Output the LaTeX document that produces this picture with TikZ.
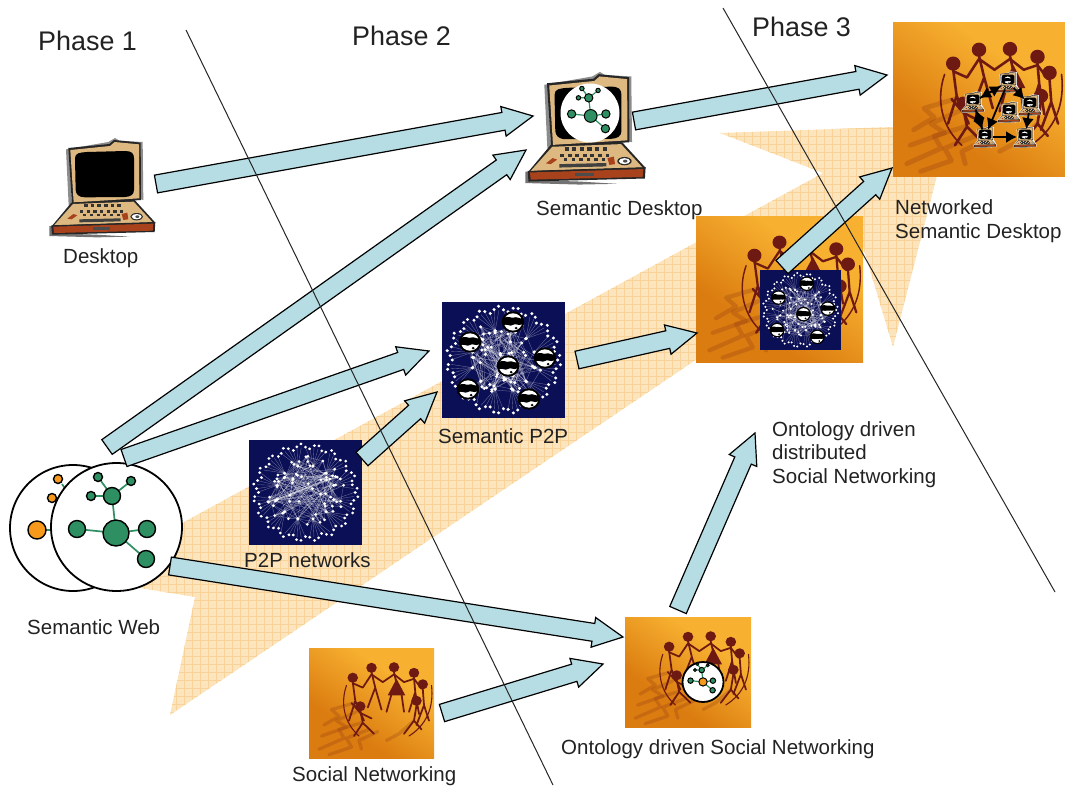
\documentclass[tikz,border=0pt]{standalone}
\usepackage{fontspec}
\setmainfont{Liberation Sans}
\usetikzlibrary{calc,arrows.meta}
\definecolor{flowfill}{HTML}{B7DDE4}
\definecolor{bigfill}{HTML}{FCE4BC}
\definecolor{biggrid}{HTML}{F8D298}
\definecolor{navybox}{HTML}{0B0F55}
\definecolor{orA}{HTML}{DB7C10}
\definecolor{orB}{HTML}{F7B030}
\definecolor{people}{HTML}{6E1A12}
\definecolor{shadowc}{HTML}{7E2A10}
\definecolor{netgreen}{HTML}{2E8F62}
\definecolor{netorange}{HTML}{F79A1C}
\definecolor{lapbeige}{HTML}{DDB981}
\definecolor{lapred}{HTML}{A8421C}
\definecolor{inkc}{HTML}{222222}
\pgfdeclareverticalshading{orsh}{100bp}{color(0bp)=(orA); color(35bp)=(orA); color(65bp)=(orB); color(100bp)=(orB)}
\tikzset{
  flow/.style={draw=black,fill=flowfill,line width=1.2pt,line join=miter},
  lab/.style={inner sep=0,anchor=base west,text=inkc,font=\fontsize{20.5}{24}\selectfont},
  phaselab/.style={inner sep=0,anchor=base west,text=inkc,font=\fontsize{26.9}{30}\selectfont},
  phaseline/.style={draw=black!85,line width=1pt},
  disc/.style={draw=black,fill=white,line width=1.8pt},
  minilink/.style={draw=black,line width=1.8pt,shorten >=8pt,shorten <=8pt,-{Latex[length=11pt,width=12pt]}},
  laptop/.pic={
    % halo
    \fill[white] (100,90) -- (235,62) -- (255,48) -- (345,60) -- (345,240) -- (385,310) -- (380,345) -- (60,352) -- (55,315) -- (112,250) -- cycle;
    % grey drop shadow
    \fill[black!45] (108,88) -- (235,66) -- (255,54) -- (268,62) -- (338,66) -- (340,240) -- (332,238) -- (328,76) -- (118,94) -- (126,254) -- (116,256) -- cycle;
    \fill[black!55] (58,318) -- (66,318) -- (68,340) -- (200,344) -- (300,350) -- (200,352) -- (58,348) -- cycle;
    % lid
    \fill[black!85] (115,84) -- (238,72) -- (252,60) -- (332,68) -- (333,240) -- (126,253) -- cycle;
    \fill[lapbeige] (121,90) -- (240,78) -- (254,66) -- (327,73) -- (328,235) -- (131,247) -- cycle;
    % screen
    \fill[black] (135,115) .. controls (135,98) and (150,98) .. (170,96) -- (285,93) .. controls (305,93) and (312,100) .. (312,115) -- (312,210) .. controls (312,225) and (300,230) .. (285,231) -- (165,232) .. controls (145,232) and (138,222) .. (137,210) -- cycle;
    % base
    \fill[black!85] (124,248) -- (314,240) -- (376,308) -- (64,320) -- cycle;
    \fill[lapbeige] (129,252) -- (311,245) -- (368,307) -- (72,316) -- cycle;
    \foreach \xk in {162,182,202,222,242,262}{\fill[black!80] (\xk,253) rectangle +(11,9);}
    \foreach \xk in {150,170,190,210,230,250,270}{\fill[black!80] (\xk,270) rectangle +(10,8);}
    \foreach \xk in {160,180,200,220,240,260}{\fill[black!80] (\xk,283) rectangle +(9,6);}
    \fill[black!75] (148,298) -- (272,295) -- (272,304) -- (148,307) -- cycle;
    \fill[lapred] (112,296) -- (130,282) -- (142,286) -- (125,298) -- cycle;
    \fill[lapred] (275,282) -- (292,278) -- (295,298) -- (280,300) -- cycle;
    \fill[black!85] (320,290) ellipse [x radius=19,y radius=11];
    \fill[white] (320,290) ellipse [x radius=15,y radius=8];
    \fill[black!70] (322,290) ellipse [x radius=6,y radius=4];
    % front
    \fill[black!85] (64,316) -- (376,306) -- (374,336) -- (66,344) -- cycle;
    \fill[lapred] (70,320) -- (370,311) -- (368,332) -- (72,339) -- cycle;
    \fill[black!70] (190,322) rectangle (240,330);
  }
}
% block arrow between two named coordinates
\newcommand\barrow[2]{%
  \coordinate (tmpneck) at ($(#2)!30pt!(#1)$);
  \draw[flow] ($(#1)!9pt!90:(#2)$) -- ($(tmpneck)!9pt!90:(#2)$) -- ($(tmpneck)!15pt!90:(#2)$) -- (#2)
    -- ($(tmpneck)!15pt!-90:(#2)$) -- ($(tmpneck)!9pt!-90:(#2)$) -- ($(#1)!9pt!-90:(#2)$) -- cycle;}
% orange picture with ring of paper figures
\newcommand\ringscene[5]{%
  \begin{scope}[shift={(#1,#2)},xscale=#3,yscale=#4]
    \shade[shading=orsh,shading angle=-35] (0,0) rectangle (100,100);
    \begin{scope}[shadowc,opacity=.22,line width=#5*3pt,line cap=round,line join=round]
      \draw (38,58) -- (22,66) -- (30,72) -- (10,80);
      \draw (42,68) -- (24,74) -- (28,82) -- (8,92);
      \draw (48,74) -- (30,82) -- (34,90) -- (16,97);
      \draw (36,50) -- (18,56) -- (24,62) -- (12,70);
      \draw (55,76) -- (40,84) -- (42,92);
      \draw (84,66) -- (72,78) -- (62,84);
    \end{scope}
    \begin{scope}[people,line width=#5*1.6pt,line cap=round,line join=round]
      \foreach \hx/\hy in {50/18,68/17.5,84/22.6,91/33,35/27,41/53,86/48}{
        \fill (\hx,\hy) ellipse [x radius=4.2,y radius=4.6];}
      \draw (50,22) -- (53,36) -- (47,54) (53,36) -- (58,56);
      \draw (68,22) -- (70,32) (66,42) -- (62,58) (74,42) -- (76,58);
      \fill (70,28) -- (63,43) -- (77,43) -- cycle;
      \draw (84,27) -- (85,40) -- (80,58) (85,40) -- (88,60);
      \draw (50,24) -- (59,31) -- (68,24) -- (76,31) -- (84,28) -- (90,37);
      \draw (50,24) -- (43,36) -- (35,32);
      \draw (35,31) -- (37,48) -- (32,66) (37,48) -- (44,66);
      \draw (91,37) -- (92,52) -- (86,70) (92,52) -- (96,66);
      \draw (41,57) -- (43,68) -- (36,80) (43,68) -- (52,78);
      \draw (41,59) -- (34,50) (41,59) -- (50,64);
      \draw (86,52) -- (84,66) -- (76,78) (84,66) -- (90,74);
      \draw[line width=#5*1pt] (30,34) .. controls (25,50) and (28,68) .. (40,80);
      \draw[line width=#5*1pt] (98,34) .. controls (100,54) and (94,70) .. (80,80);
    \end{scope}
  \end{scope}}
% little green (or orange) graph
\newcommand\semnet[6]{%
  \begin{scope}[shift={(#1,#2)},scale=#3]
    \draw[netgreen,line width=#6*1.7pt] (0,6) -- (-39,2) (0,6) -- (31,2) (0,6) -- (30,32) (0,6) -- (-4,-31)
       (-4,-31) -- (-18,-50) (-4,-31) -- (15,-46) (-4,-31) -- (-25,-31);
    \begin{scope}[draw=black,line width=#6*1.4pt,fill=#5]
      \filldraw[fill=#4] (0,6) circle [radius=13];
      \filldraw (-39,2) circle [radius=8.5];
      \filldraw (31,2) circle [radius=8.5];
      \filldraw (30,32) circle [radius=8.5];
      \filldraw (-4,-31) circle [radius=8.5];
      \filldraw (-18,-50) circle [radius=4.5];
      \filldraw (15,-46) circle [radius=4.5];
      \filldraw (-25,-31) circle [radius=4.5];
    \end{scope}
  \end{scope}}
% globe mark
\newcommand\globemark[3]{%
  \begin{scope}[shift={(#1,#2)},scale=#3]
    \fill[black] (0,0) circle [radius=1.08];
    \fill[white] (0,0) circle [radius=.88];
    \fill[black] (-.95,-.35) .. controls (-.5,-.75) and (-.1,-.3) .. (.1,-.45) .. controls (.35,-.6) and (.6,-.25) .. (.95,-.4) -- (.95,.2) .. controls (.5,.5) and (.25,.05) .. (0,.3) .. controls (-.3,.55) and (-.6,.05) .. (-.95,.4) -- cycle;
    \fill[black] (.3,.62) circle [radius=.14];
  \end{scope}}
% dark network square
\newcommand\pnet[7]{%
  \begin{scope}[shift={(#1,#2)},xscale=#3,yscale=#4]
    \fill[navybox] (0,0) rectangle (1,1);
    \pgfmathsetseed{#5}
    \foreach \k in {0,...,11}{
      \pgfmathsetmacro\ang{(\k+.5)*30}
      \coordinate (hub\k) at ({.5+.26*cos(\ang)},{.5+.26*sin(\ang)});}
    \foreach \k in {1,...,60}{
      \pgfmathsetmacro\ang{rnd*360}\pgfmathsetmacro\rad{.35*sqrt(rnd)}
      \coordinate (core\k) at ({.5+\rad*cos(\ang)},{.5+\rad*sin(\ang)});}
    \begin{scope}[white,opacity=.4,line width=#7*.35pt]
      \foreach \k in {1,...,60}{
        \pgfmathtruncatemacro\ta{1+int(rnd*60)}\pgfmathtruncatemacro\tb{int(rnd*12)}
        \pgfmathtruncatemacro\tc{1+int(rnd*60)}
        \draw (core\k) -- (core\ta) (core\k) -- (hub\tb) (core\k) -- (core\tc);}
      \foreach \j in {0,...,71}{
        \pgfmathtruncatemacro\hb{int(\j/6)}
        \pgfmathsetmacro\ang{\j*5}
        \draw (hub\hb) -- ({.5+.43*cos(\ang)},{.5+.43*sin(\ang)});}
    \end{scope}
    \foreach \k in {1,...,60}{\fill[white] (core\k) circle [radius=.014];}
    \foreach \k in {0,...,11}{\fill[white] (hub\k) circle [radius=.016];}
    \foreach \j in {0,...,71}{
      \pgfmathsetmacro\ang{\j*5}
      \pgfmathsetmacro\rr{.44+.025*sin(\j*97)}
      \fill[white] ({.5+\rr*cos(\ang)},{.5+\rr*sin(\ang)}) circle [radius=.014];}
    #6
  \end{scope}}
\newcommand\sixglobes{%
  \globemark{.228}{.345}{.085}\globemark{.577}{.172}{.085}\globemark{.837}{.483}{.085}
  \globemark{.537}{.552}{.085}\globemark{.211}{.75}{.085}\globemark{.707}{.836}{.085}}
\begin{document}
\begin{tikzpicture}[x=1pt,y=-1pt]
\useasboundingbox (0,0) rectangle (1065,785);
% big pale arrow
\begin{scope}
  \clip (120,557) -- (140,588) -- (195,597) -- (170,715) -- (863,247) -- (893,347) -- (950,125) -- (720,133) -- (823,173) -- cycle;
  \fill[bigfill] (100,100) rectangle (1000,760);
  \foreach \gx in {104,112,...,1000}{\draw[biggrid,line width=.6pt] (\gx,100) -- (\gx,760);}
  \foreach \gy in {104,112,...,760}{\draw[biggrid,line width=.6pt] (100,\gy) -- (1000,\gy);}
\end{scope}

% Desktop
\pic[shift={(30,120)},scale=1/3] {laptop};
% Semantic Desktop
\pic[shift={(503.5,51.5)},scale=.378] {laptop};
\fill[white] (590,113) circle [radius=29.5];
\semnet{590.7}{113}{.49}{netgreen}{netgreen}{.7}

% Networked Semantic Desktop
\ringscene{893}{22}{1.72}{1.54}{1.6}
\coordinate (m1) at (1008,82);
\coordinate (m2) at (973,102);
\coordinate (m3) at (1030,105);
\coordinate (m4) at (1009,112);
\coordinate (m5) at (985,137);
\coordinate (m6) at (1025,137);
\foreach \sx in {m1,m2,m3,m4,m5,m6}{
  \pic[shift={($(\sx)+(-15.4,-14)$)},scale=.07] {laptop};
  \globemark{$(\sx)+(-.3,-2)$}{0}{4}
}
\foreach \sx/\sy in {m1/m2,m2/m1,m2/m5,m1/m5,m1/m3,m3/m6,m5/m6,m5/m2}{
  \draw[minilink] (\sx) -- (\sy);}

% middle picture with P2P inset
\ringscene{696}{216}{1.67}{1.46}{1.4}
\pnet{760}{270}{81}{80}{7}{\sixglobes}{.7}

% P2P networks
\pnet{249}{440}{113}{105}{3}{}{1}
% Semantic P2P
\pnet{442}{302}{123}{116}{11}{\sixglobes}{1}

% Social Networking
\ringscene{309}{648}{1.25}{1.10}{1.1}
% Ontology driven Social Networking
\ringscene{625}{617}{1.26}{1.10}{1.1}
\draw[disc] (703,682) ellipse [x radius=20.5,y radius=20];
\semnet{703}{680}{.32}{netorange}{netgreen}{.7}

% Semantic Web
\draw[disc] (73,528) circle [radius=63];
\draw[netgreen,line width=1.7pt] (46,530) -- (55,530) (62,484) -- (66,490);
\draw[black,line width=1.4pt,fill=netorange] (37,530) circle [radius=9] (52,498) circle [radius=4.5] (58,479) circle [radius=4.5];
\draw[disc] (116.5,527) ellipse [x radius=65.5,y radius=64];
\semnet{116}{527}{1}{netgreen}{netgreen}{1}

% labels
\node[phaselab] (ph1) at (38,50) {Phase 1};
\node[phaselab] (ph2) at (352,45) {Phase 2};
\node[phaselab] (ph3) at (752,36) {Phase 3};
\node[lab] (tDesktop) at (63,263) {Desktop};
\node[lab] (tSemDesk) at (536,215) {Semantic Desktop};
\node[lab] (tNet1) at (895,214) {Networked};
\node[lab] (tNet2) at (895,238) {Semantic Desktop};
\node[lab] (tSemP2P) at (438,443) {Semantic P2P};
\node[lab] (tP2P) at (244,567) {P2P networks};
\node[lab] (tSemWeb) at (27,634) {Semantic Web};
\node[lab] (tSocial) at (292,781) {Social Networking};
\node[lab] (tODSN) at (561,754) {Ontology driven Social Networking};
\node[lab] (tOD1) at (772,436) {Ontology driven};
\node[lab] (tOD2) at (772,459) {distributed};
\node[lab] (tOD3) at (772,483) {Social Networking};

% connector end points
\coordinate (desktopOut) at (156,184);
\coordinate (sdeskInA) at (533,116);
\coordinate (sdeskOut) at (634,121);
\coordinate (nsdInA) at (887,75);
\coordinate (swOutA) at (107,447);
\coordinate (sdeskInB) at (526,150);
\coordinate (swOutB) at (124,458);
\coordinate (sp2pInA) at (429,351);
\coordinate (p2pOut) at (362,459);
\coordinate (sp2pInB) at (437,392);
\coordinate (sp2pOut) at (577,360);
\coordinate (midIn) at (697,333);
\coordinate (midOut) at (782,267);
\coordinate (nsdInB) at (892,168);
\coordinate (swOutC) at (170,566);
\coordinate (odsnInA) at (623,637);
\coordinate (socialOut) at (442,713);
\coordinate (odsnInB) at (603,664);
\coordinate (odsnOut) at (678,610);
\coordinate (oddsnIn) at (755,433);
\barrow{desktopOut}{sdeskInA}
\barrow{sdeskOut}{nsdInA}
\barrow{swOutA}{sdeskInB}
\barrow{swOutB}{sp2pInA}
\barrow{p2pOut}{sp2pInB}
\barrow{sp2pOut}{midIn}
\barrow{midOut}{nsdInB}
\barrow{swOutC}{odsnInA}
\barrow{socialOut}{odsnInB}
\barrow{odsnOut}{oddsnIn}

% phase dividers
\coordinate (divAtop) at (186,30);
\coordinate (divAend) at (553,785);
\coordinate (divBtop) at (723,8);
\coordinate (divBend) at (1055,592);
\draw[phaseline] (divAtop) -- (divAend);
\draw[phaseline] (divBtop) -- (divBend);
\end{tikzpicture}
\end{document}
